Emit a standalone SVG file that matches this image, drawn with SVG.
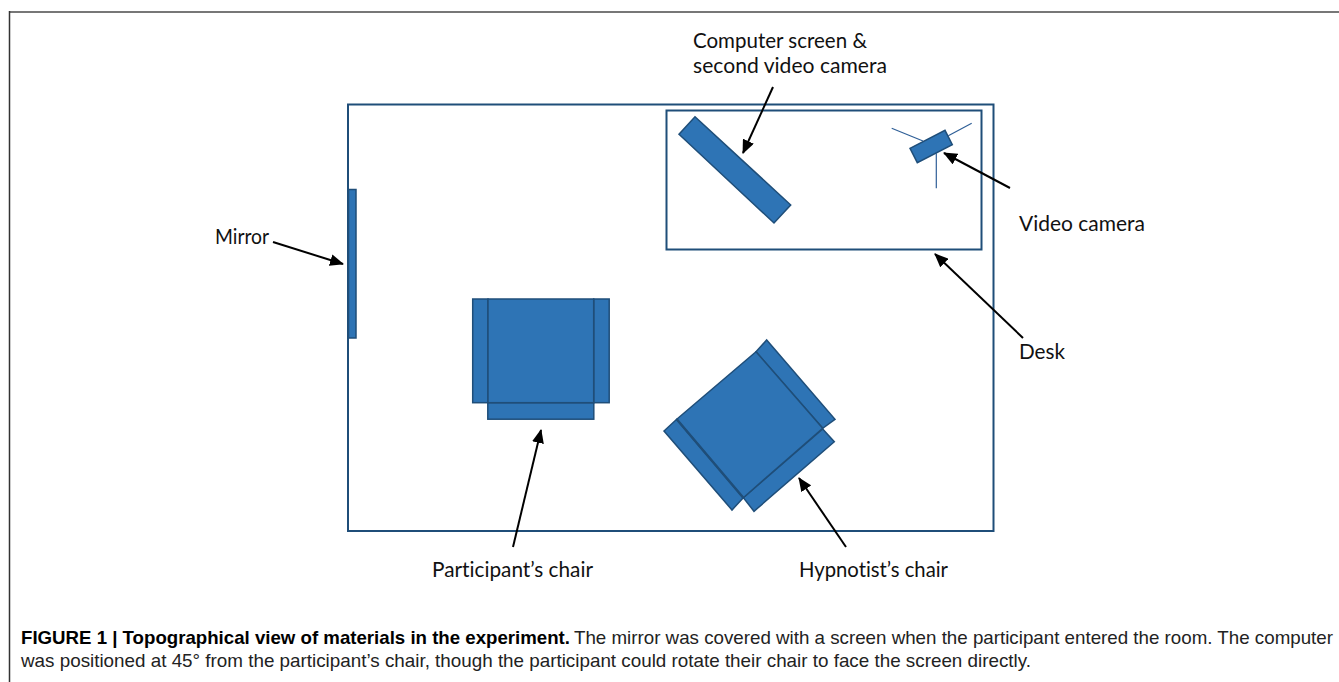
<svg xmlns="http://www.w3.org/2000/svg" width="1339" height="682" viewBox="0 0 1339 682">
<style>
.s{fill:#2e74b5;stroke:#1f4e79;stroke-width:1.5}
.o{fill:none;stroke:#1f4e79;stroke-width:2}
.t{fill:none;stroke:#2f5f97;stroke-width:1.2}
.c{fill:none;stroke:#000;stroke-width:2;marker-end:url(#a)}
.l{font-family:"Lato","Liberation Sans",sans-serif;font-size:20.500px;fill:#111;font-variant-ligatures:none}
.cap{font-family:"Liberation Sans",Arial,sans-serif;font-size:18.500px;fill:#222}
.b{font-weight:bold;fill:#000}
</style>
<defs>
<marker id="a" markerUnits="userSpaceOnUse" markerWidth="14" markerHeight="12" refX="13" refY="6" orient="auto">
<path d="M0 0L14 6L0 12Z" fill="#000"/>
</marker>
</defs>
<rect width="1339" height="682" fill="#fff"/>
<path id="frame-top" d="M9 12H1339" fill="none" stroke="#777" stroke-width="2"/>
<path id="frame-left" d="M9.500 11V682" fill="none" stroke="#333" stroke-width="1.500"/>
<g id="room"><rect class="o" x="348" y="104.500" width="645.500" height="426.500"/></g>
<g id="desk"><rect class="o" x="666.500" y="110.500" width="315" height="139"/></g>
<g id="mirror"><rect class="s" x="348.500" y="189.500" width="7.500" height="148.500"/></g>
<g id="screen"><polygon class="s" points="695,116.700 790.700,205 774,223 679,134.300"/></g>
<g id="camera">
<path class="t" d="M891.700 128.300L923 141M971.700 123.300L948.300 135.700M936.300 153.300V188.300"/>
<polygon class="s" points="910,148.300 945,130.300 952.300,144.700 917.300,162.700"/>
</g>
<g id="participant-chair">
<rect class="s" x="487.800" y="402.700" width="106" height="16.500"/>
<rect class="s" x="472.700" y="299" width="15.300" height="103.700"/>
<rect class="s" x="593.700" y="299" width="15.500" height="103.700"/>
<rect class="s" x="488" y="299" width="105.700" height="103.700"/>
</g>
<g id="hypnotist-chair">
<polygon class="s" points="766.700,340 835,419.300 822.700,428.300 756,351.700"/>
<polygon class="s" points="822.700,429 834.300,441.700 754,511.300 743.300,497.700"/>
<polygon class="s" points="676.700,419.300 664,431 732,510 743.300,497.700"/>
<polygon class="s" points="756,351.700 822.700,428.300 743.300,497.700 676.700,419.300"/>
<path d="M676.700 419.300L743.300 497.700" fill="none" stroke="#1f4e79" stroke-width="2.500"/>
</g>
<g id="connectors">
<line class="c" x1="773" y1="87" x2="743" y2="153"/>
<line class="c" x1="1010" y1="188" x2="944" y2="153"/>
<line class="c" x1="1023" y1="338" x2="935" y2="254"/>
<line class="c" x1="846" y1="547" x2="799" y2="478"/>
<line class="c" x1="513" y1="547" x2="541" y2="430"/>
<line class="c" x1="273" y1="242" x2="343" y2="264"/>
</g>
<g id="labels">
<text class="l" x="693" y="47.500" textLength="174" lengthAdjust="spacingAndGlyphs">Computer screen &amp;</text>
<text class="l" x="693" y="72.500" textLength="194" lengthAdjust="spacingAndGlyphs">second video camera</text>
<text class="l" x="1019" y="231" textLength="126" lengthAdjust="spacingAndGlyphs">Video camera</text>
<text class="l" x="1019" y="358.500" textLength="46" lengthAdjust="spacingAndGlyphs">Desk</text>
<text class="l" x="215" y="243.500" textLength="54" lengthAdjust="spacingAndGlyphs">Mirror</text>
<text class="l" x="432" y="576.500" textLength="161" lengthAdjust="spacingAndGlyphs">Participant’s chair</text>
<text class="l" x="799" y="577" textLength="149" lengthAdjust="spacingAndGlyphs">Hypnotist’s chair</text>
</g>
<g id="caption">
<text class="cap b" x="21" y="644" textLength="549" lengthAdjust="spacingAndGlyphs">FIGURE 1 | Topographical view of materials in the experiment.</text>
<text class="cap" x="574" y="644" textLength="759" lengthAdjust="spacingAndGlyphs">The mirror was covered with a screen when the participant entered the room. The computer</text>
<text class="cap" x="21" y="667" textLength="1010" lengthAdjust="spacingAndGlyphs">was positioned at 45° from the participant’s chair, though the participant could rotate their chair to face the screen directly.</text>
</g>
</svg>
